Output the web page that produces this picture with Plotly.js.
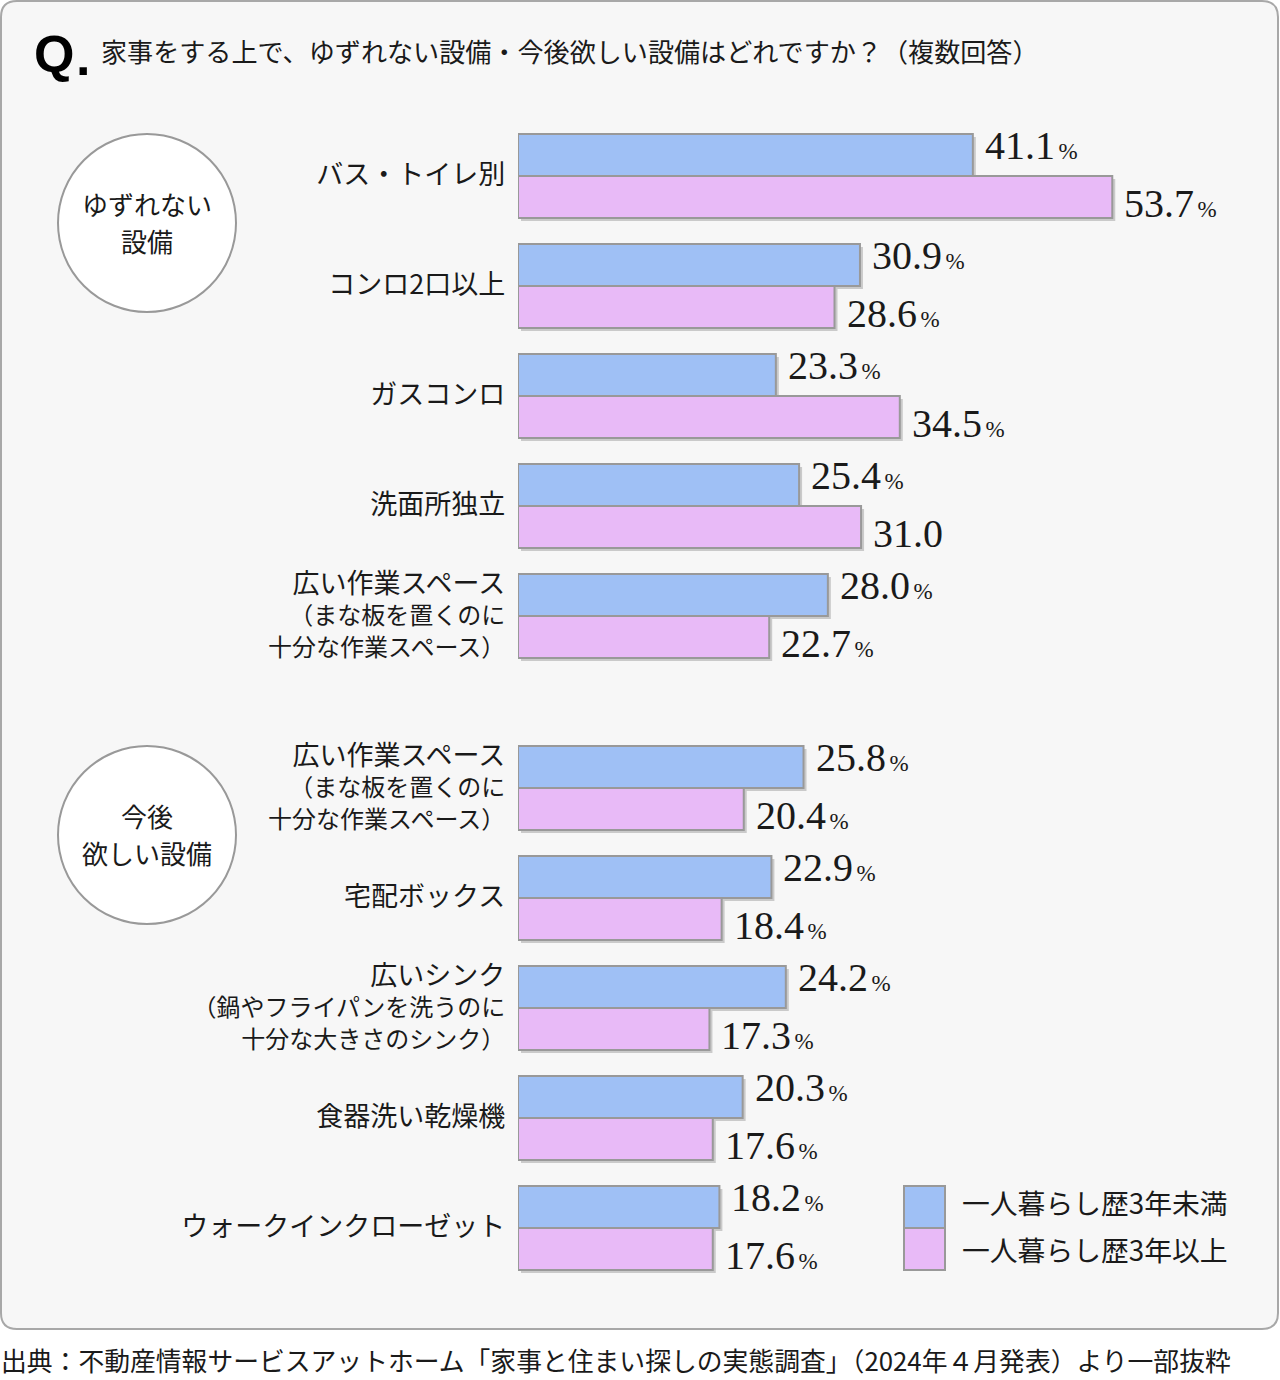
<!DOCTYPE html>
<html>
<head>
<meta charset="utf-8">
<script src="https://cdn.plot.ly/plotly-3.0.1.min.js"></script>
<style>
  html, body { margin: 0; padding: 0; background: #ffffff; }
  #chart { width: 1280px; height: 1380px; }
</style>
</head>
<body>
<div id="chart"></div>
<script>
// ---------------- DATA ----------------
const seriesNames = ["一人暮らし歴3年未満", "一人暮らし歴3年以上"];

const groupTitles = [["ゆずれない", "設備"], ["今後", "欲しい設備"]];

const categories1 = ["バス・トイレ別", "コンロ2口以上", "ガスコンロ", "洗面所独立", "広い作業スペース1"];
const tickLabels1 = [
  "<span style='font-size:27px'>バス・トイレ別</span>",
  "<span style='font-size:27px'>コンロ2口以上</span>",
  "<span style='font-size:27px'>ガスコンロ</span>",
  "<span style='font-size:27px'>洗面所独立</span>",
  "<span style='font-size:27px'>広い作業スペース</span><br>（まな板を置くのに<br>十分な作業スペース）"
];
const under3_1 = [41.1, 30.9, 23.3, 25.4, 28.0];
const over3_1  = [53.7, 28.6, 34.5, 31.0, 22.7];
const over3_1_showPct = [true, true, true, false, true];

const categories2 = ["広い作業スペース2", "宅配ボックス", "広いシンク", "食器洗い乾燥機", "ウォークインクローゼット"];
const tickLabels2 = [
  "<span style='font-size:27px'>広い作業スペース</span><br>（まな板を置くのに<br>十分な作業スペース）",
  "<span style='font-size:27px'>宅配ボックス</span>",
  "<span style='font-size:27px'>広いシンク</span><br>（鍋やフライパンを洗うのに<br>十分な大きさのシンク）",
  "<span style='font-size:27px'>食器洗い乾燥機</span>",
  "<span style='font-size:27px'>ウォークインクローゼット</span>"
];
const under3_2 = [25.8, 22.9, 24.2, 20.3, 18.2];
const over3_2  = [20.4, 18.4, 17.3, 17.6, 17.6];
const over3_2_showPct = [true, true, true, true, true];

const questionText = "家事をする上で、ゆずれない設備・今後欲しい設備はどれですか？（複数回答）";
const sourceText = "出典：不動産情報サービスアットホーム「家事と住まい探しの実態調査」（2024年４月発表）より一部抜粋";

// ---------------- STYLE / GEOMETRY ----------------
const JP = "'Noto Sans CJK JP', 'Noto Sans', sans-serif";
const SERIF = "'Liberation Serif', 'DejaVu Serif', serif";
const BLUE = "#9fc0f5";
const PINK = "#e8baf7";
const EDGE = "#999999";
const TXT = "#1a1a1a";

const L = 518, W = 664, T = 121, H = 1162;           // plot area in px
const FIG_W = 1280, FIG_H = 1380;
const px2x = p => (p - L) / W;
const py2y = p => (T + H - p) / H;

const BW = 42 / 110;          // one bar thickness in category units
const SH = 3 / 110;           // shadow offset (y) in category units
const SHX = 3 / (W / 60);     // shadow offset (x) in % units

function groupTraces(cats, blueVals, pinkVals, xa, ya) {
  const common = { type: 'bar', orientation: 'h', y: cats, xaxis: xa, yaxis: ya, hoverinfo: 'skip', showlegend: false };
  return [
    Object.assign({}, common, { x: blueVals, base: SHX, offset: -BW + SH, width: BW, marker: { color: 'rgba(0,0,0,0.18)', line: { width: 0 } } }),
    Object.assign({}, common, { x: pinkVals, base: SHX, offset: SH, width: BW, marker: { color: 'rgba(0,0,0,0.18)', line: { width: 0 } } }),
    Object.assign({}, common, { name: seriesNames[0], x: blueVals, offset: -BW, width: BW, marker: { color: BLUE, line: { color: EDGE, width: 2 } } }),
    Object.assign({}, common, { name: seriesNames[1], x: pinkVals, offset: 0, width: BW, marker: { color: PINK, line: { color: EDGE, width: 2 } } })
  ];
}

const data = [].concat(
  groupTraces(categories1, under3_1, over3_1, 'x', 'y'),
  groupTraces(categories2, under3_2, over3_2, 'x2', 'y2')
);

function valText(v, showPct) {
  return v.toFixed(1) + (showPct ? "<span style='font-size:14px'> </span><span style='font-size:23px'>%</span>" : "");
}

const annotations = [];
function valueAnnots(cats, blueVals, pinkVals, pinkPct, xa, ya) {
  cats.forEach((c, i) => {
    annotations.push({ xref: xa, yref: ya, x: blueVals[i], y: c, text: valText(blueVals[i], true),
      xanchor: 'left', yanchor: 'middle', xshift: 10, yshift: 31, showarrow: false,
      font: { family: SERIF, size: 40, color: TXT } });
    annotations.push({ xref: xa, yref: ya, x: pinkVals[i], y: c, text: valText(pinkVals[i], pinkPct[i]),
      xanchor: 'left', yanchor: 'middle', xshift: 10, yshift: -27, showarrow: false,
      font: { family: SERIF, size: 40, color: TXT } });
  });
}
valueAnnots(categories1, under3_1, over3_1, over3_1_showPct, 'x', 'y');
valueAnnots(categories2, under3_2, over3_2, over3_2_showPct, 'x2', 'y2');

// Title
annotations.push({ xref: 'paper', yref: 'paper', x: px2x(32), y: py2y(54), xanchor: 'left', yanchor: 'middle',
  text: "<b>Q</b>", showarrow: false, font: { family: "'Liberation Sans', Arial, sans-serif", size: 52, color: '#000' } });
annotations.push({ xref: 'paper', yref: 'paper', x: px2x(74), y: py2y(57), xanchor: 'left', yanchor: 'middle',
  text: "<b>.</b>", showarrow: false, font: { family: "'Liberation Sans', Arial, sans-serif", size: 52, color: '#000' } });
annotations.push({ xref: 'paper', yref: 'paper', x: px2x(99), y: py2y(51), xanchor: 'left', yanchor: 'middle',
  text: questionText, showarrow: false, font: { family: JP, size: 26.1, color: TXT } });

// Circle group titles
const circleCenters = [[147, 223], [147, 835]];
circleCenters.forEach((c, i) => {
  const lines = groupTitles[i];
  lines.forEach((ln, k) => {
    annotations.push({ xref: 'paper', yref: 'paper', x: px2x(c[0]), y: py2y(c[1] + (k - (lines.length - 1) / 2) * 37 - 1),
      xanchor: 'center', yanchor: 'middle', text: ln, showarrow: false, font: { family: JP, size: 26, color: TXT } });
  });
});

// Legend
const legendItems = [[1186, 1228, BLUE, 1202], [1228, 1270, PINK, 1249]];
legendItems.forEach((it, i) => {
  annotations.push({ xref: 'paper', yref: 'paper', x: px2x(960), y: py2y(it[3]), xanchor: 'left', yanchor: 'middle',
    text: seriesNames[i], showarrow: false, font: { family: JP, size: 27.8, color: TXT } });
});

// Source
annotations.push({ xref: 'paper', yref: 'paper', x: px2x(0), y: py2y(1359), xanchor: 'left', yanchor: 'middle',
  text: sourceText, showarrow: false, borderpad: 0, font: { family: JP, size: 25.8, color: TXT } });

// Shapes
function roundRectPath(x0, y0, x1, y1, r) {
  const X = px2x, Y = py2y;
  return `M ${X(x0 + r)},${Y(y0)} L ${X(x1 - r)},${Y(y0)} Q ${X(x1)},${Y(y0)} ${X(x1)},${Y(y0 + r)} ` +
         `L ${X(x1)},${Y(y1 - r)} Q ${X(x1)},${Y(y1)} ${X(x1 - r)},${Y(y1)} ` +
         `L ${X(x0 + r)},${Y(y1)} Q ${X(x0)},${Y(y1)} ${X(x0)},${Y(y1 - r)} ` +
         `L ${X(x0)},${Y(y0 + r)} Q ${X(x0)},${Y(y0)} ${X(x0 + r)},${Y(y0)} Z`;
}
const shapes = [
  { type: 'path', xref: 'paper', yref: 'paper', layer: 'below', path: roundRectPath(1, 1, 1278, 1329, 16),
    fillcolor: '#f7f7f7', line: { color: '#a8a8a8', width: 2 } }
];
circleCenters.forEach(c => {
  const r = 89;
  shapes.push({ type: 'circle', xref: 'paper', yref: 'paper', layer: 'below',
    x0: px2x(c[0] - r), x1: px2x(c[0] + r), y0: py2y(c[1] + r), y1: py2y(c[1] - r),
    fillcolor: '#ffffff', line: { color: '#999999', width: 2 } });
});
legendItems.forEach(it => {
  shapes.push({ type: 'rect', xref: 'paper', yref: 'paper', layer: 'above',
    x0: px2x(904), x1: px2x(945), y0: py2y(it[1]), y1: py2y(it[0]),
    fillcolor: it[2], line: { color: EDGE, width: 2 } });
});

const yCommon = {
  type: 'category', range: [4.5, -0.5], showgrid: false, zeroline: false, showline: false,
  ticks: 'outside', ticklen: 7, tickcolor: 'rgba(0,0,0,0)',
  tickfont: { family: JP, size: 24, color: TXT }, fixedrange: true
};
const xCommon = { range: [0, 60], visible: false, showgrid: false, zeroline: false, fixedrange: true };

const layout = {
  width: FIG_W, height: FIG_H,
  margin: { l: L, r: FIG_W - L - W, t: T, b: FIG_H - T - H, pad: 0 },
  paper_bgcolor: '#ffffff', plot_bgcolor: 'rgba(0,0,0,0)',
  barmode: 'overlay', showlegend: false,
  xaxis: Object.assign({}, xCommon, { domain: [0, 1], anchor: 'y' }),
  xaxis2: Object.assign({}, xCommon, { domain: [0, 1], anchor: 'y2' }),
  yaxis: Object.assign({}, yCommon, { domain: [612 / 1162, 1], anchor: 'x', tickvals: categories1, ticktext: tickLabels1 }),
  yaxis2: Object.assign({}, yCommon, { domain: [0, 550 / 1162], anchor: 'x2', tickvals: categories2, ticktext: tickLabels2 }),
  annotations: annotations,
  shapes: shapes,
  font: { family: JP }
};

Plotly.newPlot('chart', data, layout, { staticPlot: true, displayModeBar: false });
</script>
</body>
</html>
